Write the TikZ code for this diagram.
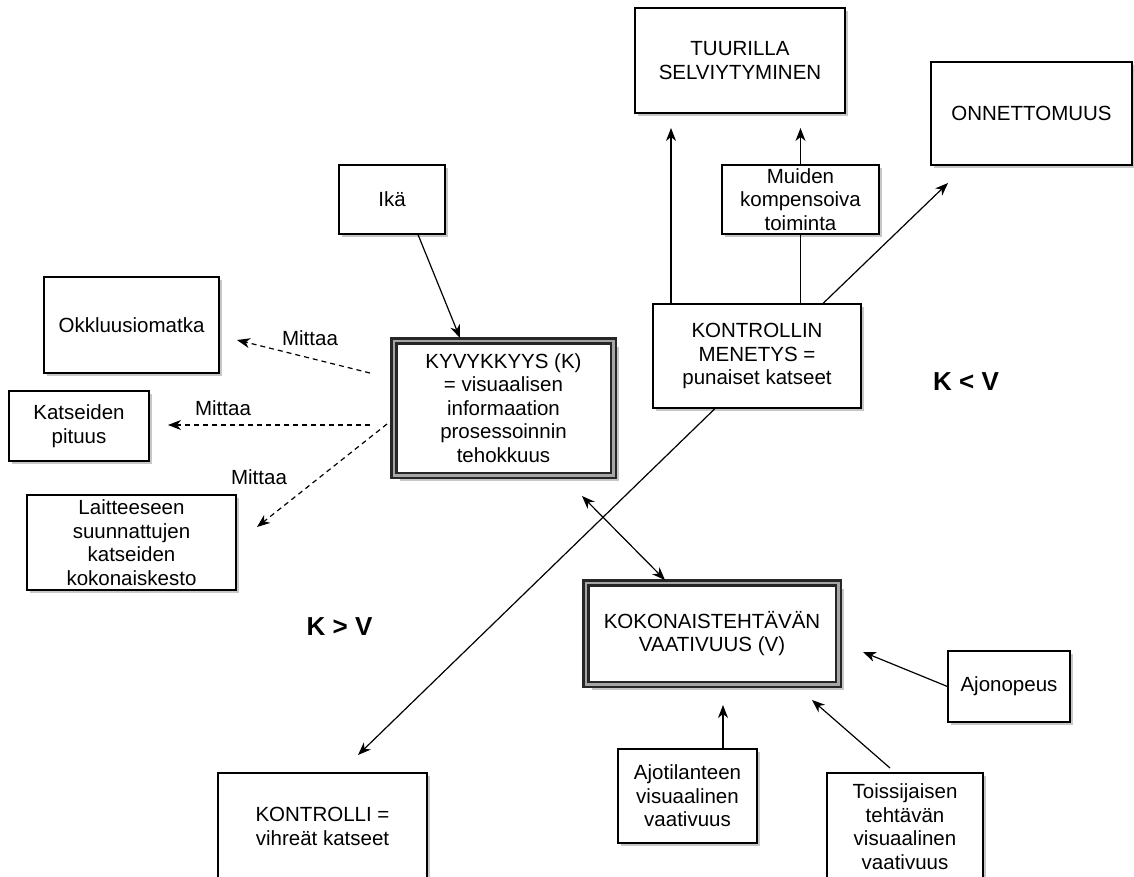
\documentclass[tikz,border=0pt]{standalone}
\usepackage{fontspec}
\setmainfont{Liberation Sans}
\usetikzlibrary{arrows.meta,shadows}
\begin{document}
\begin{tikzpicture}[x=1pt,y=-1pt,
  txt/.style={font=\fontsize{20.5}{23.5}\selectfont},
  box/.style={txt, draw=black, line width=1.1pt, fill=white, align=center, inner sep=1pt,
    drop shadow={shadow xshift=3pt,shadow yshift=-3pt,fill=black,opacity=0.22}},
  dbox/.style={box, draw=black!85, double=gray!70, double distance=2.5pt, line width=2.5pt,
    drop shadow={shadow xshift=6pt,shadow yshift=-6pt,fill=black,opacity=0.22}},
  tip/.style={Stealth[length=13pt,width=10pt,inset=4pt]},
  arr/.style={-{Stealth[length=13pt,width=10pt,inset=4pt]}, line width=1.2pt},
  darr/.style={{Stealth[length=13pt,width=10pt,inset=4pt]}-{Stealth[length=13pt,width=10pt,inset=4pt]}, line width=1.2pt},
  dasharr/.style={arr, dash pattern=on 5pt off 4pt},
  big/.style={font=\fontsize{26}{30}\selectfont\bfseries}]
\useasboundingbox (0,0) rectangle (1134,876);

% nodes
\node[box, minimum width=210pt, minimum height=105pt] (tuuri) at (740,60.5) {TUURILLA\\SELVIYTYMINEN};
\node[box, minimum width=201pt, minimum height=103pt] (onn) at (1031.5,113.5) {ONNETTOMUUS};
\node[box, minimum width=157pt, minimum height=69pt] (muiden) at (800.5,199.5) {Muiden\\kompensoiva\\toiminta};
\node[box, minimum width=208pt, minimum height=104pt] (menetys) at (757,356) {KONTROLLIN\\MENETYS =\\punaiset katseet};
\node[box, minimum width=106pt, minimum height=69pt] (ika) at (392,199.5) {Ikä};
\node[box, minimum width=175pt, minimum height=96pt] (okk) at (131.5,325) {Okkluusiomatka};
\node[box, minimum width=140pt, minimum height=70pt] (kats) at (79,426) {Katseiden\\pituus};
\node[box, minimum width=209pt, minimum height=95pt] (lait) at (131.5,542.5) {Laitteeseen\\suunnattujen\\katseiden\\kokonaiskesto};
\node[dbox, minimum width=219.5pt, minimum height=134.5pt] (kyv) at (503.5,408) {KYVYKKYYS (K)\\= visuaalisen\\informaation\\prosessoinnin\\tehokkuus};
\node[dbox, minimum width=252.5pt, minimum height=101.5pt] (koko) at (712,633.5) {KOKONAISTEHTÄVÄN\\VAATIVUUS (V)};
\node[box, minimum width=122pt, minimum height=71pt] (ajon) at (1009,686.5) {Ajonopeus};
\node[box, minimum width=139pt, minimum height=94pt] (ajot) at (687.5,796) {Ajotilanteen\\visuaalinen\\vaativuus};
\node[box, minimum width=156pt, minimum height=107pt] (toiss) at (905,826.5) {Toissijaisen\\tehtävän\\visuaalinen\\vaativuus};
\node[box, minimum width=209pt, minimum height=107pt] (kontrolli) at (322.5,826.5) {KONTROLLI =\\vihreät katseet};

% labels
\node[txt] (m1) at (310,338) {Mittaa};
\node[txt] (m2) at (223,408) {Mittaa};
\node[txt] (m3) at (259,477) {Mittaa};
\node[big] (kv1) at (966,382) {K < V};
\node[big] (kv2) at (339.5,627) {K > V};

% free ends
\coordinate (d1s) at (370,373);
\coordinate (d2s) at (370,425);
\coordinate (d3s) at (387,424);
\coordinate (d1t) at (237,340);
\coordinate (d2t) at (168,425);
\coordinate (d3t) at (257,527);
\coordinate (tt1) at (671,128);
\coordinate (tt2) at (800.5,128);
\coordinate (ont) at (948,183);
\coordinate (kot) at (358,755);
\coordinate (kyvt) at (582,496);
\coordinate (kokt) at (665,580);
\coordinate (ajont) at (863,652);
\coordinate (ajott) at (723,705);
\coordinate (toisst) at (812,700);
\coordinate (toisss) at (890,768);
\coordinate (ikat) at (460,338);

% connectors
\draw[arr] ([xshift=26pt]ika.south) -- (ikat);
\draw[dasharr] (d1s) -- (d1t);
\draw[dasharr] (d2s) -- (d2t);
\draw[dasharr] (d3s) -- (d3t);
\draw[arr] ([xshift=-86pt]menetys.north) -- (tt1);
\draw[arr] (muiden.north) -- (tt2);
\draw[line width=1.2pt] (muiden.south) -- (muiden.south |- menetys.north);
\draw[arr] ([xshift=66pt]menetys.north) -- (ont);
\draw[arr] ([xshift=-42pt]menetys.south) -- (kot);
\draw[darr] (kyvt) -- (kokt);
\draw[arr] (ajon.west) -- (ajont);
\draw[arr] ([xshift=35.5pt]ajot.north) -- (ajott);
\draw[arr] (toisss) -- (toisst);
\end{tikzpicture}
\end{document}
